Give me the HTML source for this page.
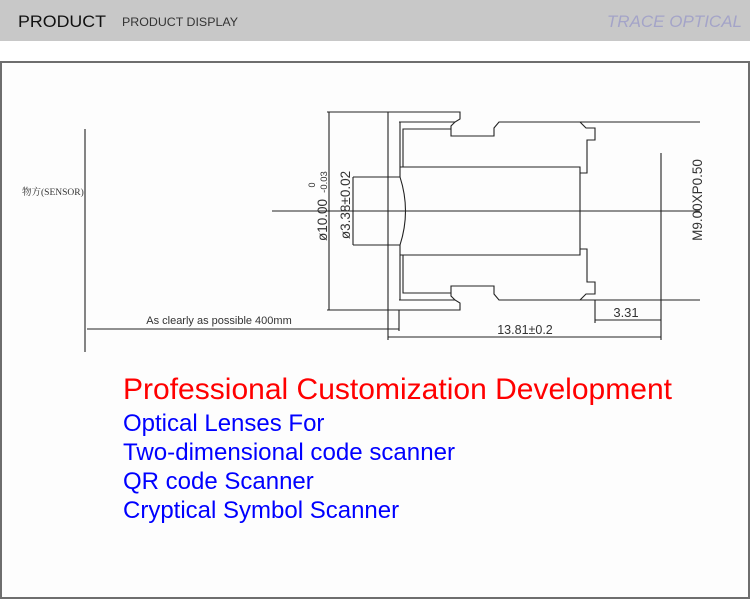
<!DOCTYPE html>
<html><head><meta charset="utf-8"><style>
html,body{margin:0;padding:0;width:750px;height:600px;overflow:hidden;background:#fff;font-family:"Liberation Sans",sans-serif;}
</style></head><body>
<svg width="750" height="600" viewBox="0 0 750 600" xmlns="http://www.w3.org/2000/svg" style="position:absolute;left:0;top:0">
<rect x="0" y="0" width="750" height="41" fill="#c8c8c8"/>
<text x="18" y="27" font-family="Liberation Sans, sans-serif" font-size="17" fill="#111" textLength="88" lengthAdjust="spacingAndGlyphs">PRODUCT</text>
<text x="122" y="26" font-family="Liberation Sans, sans-serif" font-size="12" fill="#333" textLength="116" lengthAdjust="spacingAndGlyphs">PRODUCT  DISPLAY</text>
<text x="742" y="27" text-anchor="end" font-family="Liberation Sans, sans-serif" font-size="17" font-style="italic" fill="#a4a4c8">TRACE OPTICAL</text>
<rect x="1" y="62" width="748" height="536" fill="#fdfdfd" stroke="#6e6e6e" stroke-width="2"/>
<g fill="none" stroke="#222" stroke-width="1.1">
<g id="top">
<polyline points="388,211 388,112 460,112 460,119 455,122 451,126 451,136 494,136 494,128 499,122 700,122"/>
<polyline points="399,122 455,122"/>
<polyline points="400,177 400,122"/>
<polyline points="403,167 403,129 451,129"/>
<polyline points="580,122 586,128 595,128 595,140 587,140 587,173 580,173"/>
<polyline points="400,167 580,167 580,211"/>
<line x1="327" y1="112" x2="388" y2="112"/>
<line x1="353" y1="177" x2="400" y2="177"/>
</g>
<g transform="matrix(1,0,0,-1,0,422)">
<polyline points="388,211 388,112 460,112 460,119 455,122 451,126 451,136 494,136 494,128 499,122 700,122"/>
<polyline points="399,122 455,122"/>
<polyline points="400,177 400,122"/>
<polyline points="403,167 403,129 451,129"/>
<polyline points="580,122 586,128 595,128 595,140 587,140 587,173 580,173"/>
<polyline points="400,167 580,167 580,211"/>
<line x1="327" y1="112" x2="388" y2="112"/>
<line x1="353" y1="177" x2="400" y2="177"/>
</g>
<path d="M400,177 Q411,211 400,245"/>
<line x1="272" y1="211" x2="700" y2="211"/>
<line x1="329" y1="112" x2="329" y2="310"/>
<line x1="353" y1="177" x2="353" y2="245"/>
<line x1="388" y1="310" x2="388" y2="340"/>
<line x1="399" y1="310" x2="399" y2="331"/>
<line x1="661" y1="153" x2="661" y2="340"/>
<line x1="595" y1="300" x2="595" y2="323"/>
<line x1="595" y1="320" x2="661" y2="320"/>
<line x1="388" y1="337" x2="661" y2="337"/>
<line x1="85" y1="129" x2="85" y2="352"/>
<line x1="87" y1="329" x2="399" y2="329"/>
</g>
<g font-family="Liberation Sans, sans-serif" fill="#333">
<text x="219" y="324" text-anchor="middle" font-size="11">As clearly as possible 400mm</text>
<text x="525" y="334" text-anchor="middle" font-size="12.5">13.81±0.2</text>
<text x="626" y="317" text-anchor="middle" font-size="13">3.31</text>
<text transform="translate(702,200) rotate(-90)" text-anchor="middle" font-size="13.5">M9.00XP0.50</text>
<text transform="translate(350,205) rotate(-90)" text-anchor="middle" font-size="13.5">ø3.38±0.02</text>
<text transform="translate(327,220) rotate(-90)" text-anchor="middle" font-size="13.5">ø10.00</text>
<text transform="translate(315,185) rotate(-90)" text-anchor="middle" font-size="9">0</text>
<text transform="translate(327,182) rotate(-90)" text-anchor="middle" font-size="9.5">-0.03</text>
</g>
<text x="22" y="195" font-family="Liberation Serif, Noto Serif CJK SC, serif" font-size="9.5" fill="#333">物方(SENSOR)</text>
<text x="123" y="399" font-family="Liberation Sans, sans-serif" font-size="30" fill="#ff0000" textLength="549" lengthAdjust="spacingAndGlyphs">Professional Customization Development</text>
<g font-family="Liberation Sans, sans-serif" font-size="24" fill="#0000ff">
<text x="123" y="431">Optical Lenses For</text>
<text x="123" y="460" textLength="332" lengthAdjust="spacingAndGlyphs">Two-dimensional code scanner</text>
<text x="123" y="489">QR code Scanner</text>
<text x="123" y="518">Cryptical Symbol Scanner</text>
</g>
</svg>
</body></html>
